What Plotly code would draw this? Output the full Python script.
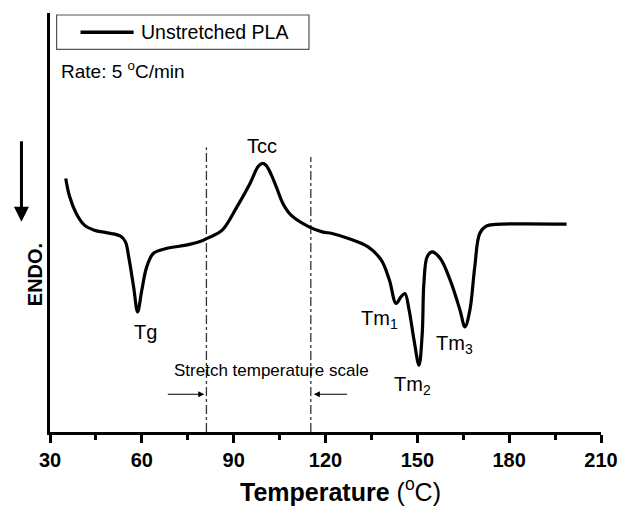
import plotly.graph_objects as go

# ---- data ----
temperature = [35.14, 36.43, 38.58, 41.25, 44.46, 48.74, 53.05, 54.65, 55.71, 57.32,
               58.61, 59.99, 61.60, 63.75, 68.03, 74.45, 78.76, 81.98, 86.25, 91.07,
               95.35, 98.05, 99.43, 100.6, 102.3, 103.93, 106.08, 108.75, 114.63, 118.94, 122.15,
               127.49, 133.92, 138.23, 140.89, 143.05, 144.65, 145.94, 147.32, 148.93, 150.54,
               151.60, 152.14, 153.20, 154.81, 157.51, 160.73, 163.94, 165.55, 167.16, 168.76,
               170.37, 172.49, 175.71, 198.75]
heat_flow = [25.34, 23.50, 21.84, 20.67, 20.17, 19.90, 19.57, 19.00, 17.50, 14.50,
             12.00, 14.17, 16.50, 17.84, 18.34, 18.67, 19.00, 19.44, 20.17, 22.50,
             24.84, 26.55, 26.85, 26.65, 25.70, 24.50, 22.84, 21.67, 20.50, 20.00, 19.84,
             19.34, 18.50, 17.17, 15.17, 12.84, 13.50, 13.84, 12.17, 9.17, 6.67,
             9.84, 14.84, 17.50, 18.00, 17.34, 15.17, 12.17, 10.50, 12.17, 16.50,
             19.84, 20.57, 20.74, 20.77]

stretch_bounds = [81.1, 115.2]
stretch_tops = [28.46, 27.47]

peak_labels = ["Tg", "Tcc", "Tm<sub>1</sub>", "Tm<sub>2</sub>", "Tm<sub>3</sub>"]
peak_label_x = [61.2, 99.1, 137.8, 148.4, 162.0]
peak_label_y = [10.0, 28.6, 11.2, 4.6, 8.7]

x_ticks = [30, 60, 90, 120, 150, 180, 210]

FONT = "Liberation Sans, Arial, Helvetica, sans-serif"

fig = go.Figure()

for xb, yt in zip(stretch_bounds, stretch_tops):
    fig.add_trace(go.Scatter(x=[xb, xb], y=[0, yt], mode="lines",
                             line=dict(color="#333333", width=1.3, dash="dashdot"),
                             hoverinfo="skip", showlegend=False))

fig.add_trace(go.Scatter(x=temperature, y=heat_flow, mode="lines",
                         line=dict(color="black", width=3.2, shape="spline", smoothing=1.0),
                         name="Unstretched PLA", showlegend=False))

annotations = []
for t, xx, yy in zip(peak_labels, peak_label_x, peak_label_y):
    annotations.append(dict(x=xx, y=yy, xref="x", yref="y", text=t, showarrow=False,
                            font=dict(size=20, color="black", family=FONT)))

annotations.append(dict(x=102.3, y=6.17, xref="x", yref="y", text="Stretch temperature scale",
                        showarrow=False, font=dict(size=17, color="black", family=FONT)))
# stretch arrows
annotations.append(dict(x=80.4, y=3.77, ax=68.0, ay=3.77, xref="x", yref="y",
                        axref="x", ayref="y", text="", showarrow=True,
                        arrowhead=2, arrowsize=1, arrowwidth=1.2, arrowcolor="black"))
annotations.append(dict(x=116.2, y=3.77, ax=127.5, ay=3.77, xref="x", yref="y",
                        axref="x", ayref="y", text="", showarrow=True,
                        arrowhead=2, arrowsize=1, arrowwidth=1.2, arrowcolor="black"))

# ENDO label and arrow
annotations.append(dict(x=-0.0505, y=0.3747, xref="paper", yref="paper", text="<b>ENDO.</b>",
                        textangle=-90, showarrow=False, font=dict(size=20, color="black", family=FONT)))
annotations.append(dict(x=-0.0518, y=0.502, xref="paper", yref="paper", text="",
                        ax=0, ay=-82, showarrow=True, arrowhead=2, arrowsize=1,
                        arrowwidth=3, arrowcolor="black"))

# legend text
annotations.append(dict(x=0.1607, y=0.954, xref="paper", yref="paper", text="Unstretched PLA",
                        xanchor="left", yanchor="middle", showarrow=False,
                        font=dict(size=19.5, color="black", family=FONT)))
annotations.append(dict(x=0.0166, y=0.864, xref="paper", yref="paper",
                        text="Rate: 5 <sup>o</sup>C/min",
                        xanchor="left", yanchor="middle", showarrow=False,
                        font=dict(size=19, color="black", family=FONT)))
# axis title
annotations.append(dict(x=0.527, y=-0.138, xref="paper", yref="paper",
                        text="<b>Temperature</b> (<sup>o</sup>C)",
                        xanchor="center", yanchor="middle", showarrow=False,
                        font=dict(size=25, color="black", family=FONT)))

shapes = [
    dict(type="rect", xref="paper", yref="paper", x0=0.012, x1=0.470, y0=0.9134, y1=0.9952,
         line=dict(color="#555555", width=1.2)),
    dict(type="line", xref="paper", yref="paper", x0=0.0554, x1=0.1518, y0=0.954, y1=0.954,
         line=dict(color="black", width=3.5)),
]

fig.update_layout(
    width=630, height=507,
    margin=dict(l=50, r=20, t=13, b=75),
    plot_bgcolor="white", paper_bgcolor="white",
    font=dict(family=FONT, color="black"),
    annotations=annotations, shapes=shapes, showlegend=False,
    xaxis=dict(range=[30, 210], tickmode="array", tickvals=x_ticks,
               ticktext=[str(v) for v in x_ticks],
               showline=True, linewidth=3, linecolor="black",
               ticks="outside", ticklen=8, tickwidth=3, tickcolor="black",
               showgrid=False, zeroline=False,
               tickfont=dict(size=20, family=FONT, color="black", weight="bold"),
               minor=dict(tickvals=[45, 75, 105, 135, 165, 195], ticks="outside",
                          ticklen=5, tickwidth=2.5, tickcolor="black", showgrid=False)),
    yaxis=dict(range=[0, 41.87], showline=True, linewidth=3, linecolor="black",
               showticklabels=False, ticks="", showgrid=False, zeroline=False),
)

fig.write_html("out.html")
